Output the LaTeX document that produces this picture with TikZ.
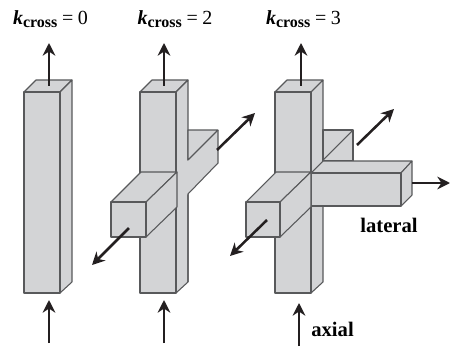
\documentclass[tikz,border=0pt]{standalone}
\usepackage{fontspec}
\setmainfont{Liberation Serif}
\usepackage{xcolor}
\usetikzlibrary{arrows.meta}
\definecolor{facegray}{HTML}{D3D4D6}
\definecolor{edgegray}{HTML}{58595B}
\definecolor{arrowblack}{HTML}{231F20}
\newcommand{\kcross}[1]{\textbf{\textit{k}}\raisebox{-0.3ex}{\fontsize{12}{14}\selectfont\bfseries cross}\hspace{3.5pt}=\hspace{3.5pt}#1}

\begin{document}
\begin{tikzpicture}[
    x=0.75pt, y=-0.75pt,
    face/.style={draw=edgegray, fill=facegray, line width=0.8pt, line join=round},
    edgeline/.style={draw=edgegray, line width=0.8pt},
    flow/.style={draw=arrowblack, line width=1.9pt, -{Stealth[length=9.5pt, width=9.5pt]}},
    klabel/.style={font=\fontsize{15}{18}\selectfont, anchor=base},
    dirlabel/.style={font=\fontsize{15.5}{18}\selectfont\bfseries, anchor=base}
]
\useasboundingbox (0,0) rectangle (453,346);

% Columns
\foreach \x in {24,140,275} {
    \draw[face] (\x,92) -- (\x+12,80) -- (\x+48,80) -- (\x+36,92) -- cycle;
    \draw[face] (\x+36,92) -- (\x+48,80) -- (\x+48,282) -- (\x+36,293) -- cycle;
    \draw[face] (\x,92) rectangle (\x+36,293);
}

% Middle crossing
\fill[facegray] (188,160) -- (218,130) -- (218,163) -- (188,194) -- (177,207) -- (177,172) -- cycle;
\draw[face] (188,130) -- (218,130) -- (188,160) -- cycle;
\draw[edgeline] (218,130) -- (218,163) -- (188,194) -- (188,282);
\draw[face] (111,202) -- (141,172) -- (177,172) -- (146,202) -- cycle;
\draw[face] (146,202) -- (177,172) -- (177,207) -- (146,237) -- cycle;
\draw[face] (111,202) rectangle (146,237);

% Right crossing
\draw[face] (323,130) -- (353,130) -- (353,161) -- (323,161) -- cycle;
\draw[edgeline] (323,160) -- (353,130);
\draw[face] (311,173) -- (323,161) -- (412,161) -- (401,173) -- cycle;
\draw[face] (401,173) -- (412,161) -- (412,195) -- (401,206) -- cycle;
\draw[face] (311,173) rectangle (401,206);
\draw[face] (246,202) -- (276,172) -- (311,172) -- (280,202) -- cycle;
\draw[face] (280,202) -- (311,172) -- (311,207) -- (280,237) -- cycle;
\draw[face] (246,202) rectangle (280,237);

% Axial arrows
\foreach \x in {49,164} {
    \draw[flow] (\x,86) -- (\x,43);
    \draw[flow] (\x,343) -- (\x,300);
}
\draw[flow] (301,86) -- (301,43);
\draw[flow] (299,346) -- (299,303);

% Lateral arrows
\draw[flow] (129,228) -- (92,265);
\draw[flow] (217,150) -- (255,113);
\draw[flow] (357,145) -- (394,109);
\draw[flow] (267,220) -- (230,256);
\draw[flow] (412,183) -- (450,183);

% Labels
\node[klabel] (k0) at (50.5,24.5) {\kcross{0}};
\node[klabel] (k2) at (175,24.5) {\kcross{2}};
\node[klabel] (k3) at (303.5,24.5) {\kcross{3}};
\node[dirlabel] (lat) at (389,232) {lateral};
\node[dirlabel] (ax) at (332.5,336) {axial};

\end{tikzpicture}
\end{document}
